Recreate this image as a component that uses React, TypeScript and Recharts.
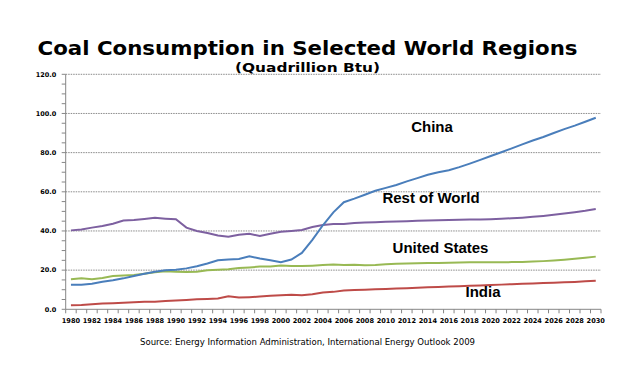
import React from 'react';
import { LineChart, Line, XAxis, YAxis, ReferenceLine } from 'recharts';

const years = [
  1980, 1981, 1982, 1983, 1984, 1985, 1986, 1987, 1988, 1989,
  1990, 1991, 1992, 1993, 1994, 1995, 1996, 1997, 1998, 1999,
  2000, 2001, 2002, 2003, 2004, 2005, 2006, 2007, 2008, 2009,
  2010, 2011, 2012, 2013, 2014, 2015, 2016, 2017, 2018, 2019,
  2020, 2021, 2022, 2023, 2024, 2025, 2026, 2027, 2028, 2029,
  2030,
];

const china = [
  12.5, 12.5, 13.0, 14.1, 14.8, 15.8, 17.0, 18.2, 19.2, 19.9,
  20.2, 20.9, 22.0, 23.4, 25.0, 25.4, 25.7, 27.1, 25.9, 25.0,
  24.0, 25.4, 28.8, 35.5, 42.9, 49.5, 54.7, 56.5, 58.5, 60.5,
  62.0, 63.5, 65.3, 67.0, 68.7, 70.0, 71.0, 72.6, 74.4, 76.3,
  78.3, 80.2, 82.2, 84.2, 86.2, 88.0, 90.0, 92.0, 93.8, 95.8,
  97.8,
];

const restOfWorld = [
  40.3, 40.8, 41.7, 42.5, 43.7, 45.3, 45.6, 46.1, 46.7, 46.3,
  46.0, 41.7, 40.0, 39.0, 37.7, 37.0, 38.1, 38.6, 37.4, 38.6,
  39.6, 40.0, 40.5, 42.0, 43.0, 43.5, 43.6, 44.1, 44.3, 44.5,
  44.7, 44.8, 45.0, 45.2, 45.4, 45.5, 45.6, 45.7, 45.8, 45.9,
  46.0, 46.2, 46.5, 46.8, 47.2, 47.7, 48.3, 48.9, 49.6, 50.3,
  51.2,
];

const unitedStates = [
  15.4, 15.8, 15.4, 16.0, 17.0, 17.3, 17.5, 18.2, 18.9, 19.4,
  19.2, 19.0, 19.2, 19.9, 20.2, 20.4, 21.1, 21.4, 21.8, 21.8,
  22.4, 22.1, 22.1, 22.3, 22.6, 22.9, 22.6, 22.8, 22.5, 22.6,
  23.0, 23.2, 23.4, 23.5, 23.6, 23.7, 23.8, 23.9, 24.0, 24.0,
  24.0, 24.0, 24.1, 24.2, 24.4, 24.6, 24.9, 25.3, 25.8, 26.3,
  26.9,
];

const india = [
  2.1, 2.2, 2.6, 2.9, 3.1, 3.4, 3.6, 3.8, 3.9, 4.3,
  4.5, 4.8, 5.1, 5.3, 5.5, 6.7, 6.0, 6.2, 6.5, 6.9,
  7.2, 7.4, 7.2, 7.7, 8.6, 8.9, 9.6, 9.8, 10.0, 10.2,
  10.4, 10.6, 10.8, 11.0, 11.2, 11.4, 11.6, 11.8, 12.0, 12.2,
  12.4, 12.6, 12.8, 13.0, 13.2, 13.4, 13.6, 13.8, 14.0, 14.3,
  14.6,
];

const xLabelYears = [
  1980, 1982, 1984, 1986, 1988, 1990, 1992, 1994, 1996, 1998,
  2000, 2002, 2004, 2006, 2008, 2010, 2012, 2014, 2016, 2018,
  2020, 2022, 2024, 2026, 2028, 2030,
];

const yTicks = [0, 5, 10, 15, 20, 25, 30, 35, 40, 45, 50, 55, 60, 65, 70, 75, 80, 85, 90, 95, 100, 105, 110, 115, 120];
const yLabelTicks = [0, 20, 40, 60, 80, 100, 120];
const gridValues = [20, 40, 60, 80, 100, 120];

const title = 'Coal Consumption in Selected World Regions';
const subtitle = '(Quadrillion Btu)';
const source = 'Source: Energy Information Administration, International Energy Outlook 2009';

const seriesLabels = [
  { text: 'China', x: 432, y: 127 },
  { text: 'Rest of World', x: 431, y: 197.5 },
  { text: 'United States', x: 440.5, y: 248 },
  { text: 'India', x: 483, y: 292 },
];

const data = years.map((yr, i) => ({
  year: yr,
  china: china[i],
  row: restOfWorld[i],
  us: unitedStates[i],
  india: india[i],
}));

const xBoundaries = [...years.map((y) => y - 0.5), years[years.length - 1] + 0.5];

const W = 640;
const H = 373;
const PLOT_L = 65.7;
const PLOT_R = 601;
const PLOT_T = 74.3;
const PLOT_B = 309.3;
const BAND = (PLOT_R - PLOT_L) / years.length;

const XTick = (props: any) => {
  const { x, payload } = props;
  const yr = payload.value + 0.5;
  if (!xLabelYears.includes(yr)) return null;
  return (
    <text
      x={x + BAND / 2}
      y={PLOT_B + 13.2}
      textAnchor="middle"
      fontFamily="DejaVu Sans"
      fontWeight="bold"
      fontSize={6.6}
      fill="#000"
    >
      {yr}
    </text>
  );
};

const YTick = (props: any) => {
  const { x, y, payload } = props;
  if (!yLabelTicks.includes(payload.value)) return null;
  return (
    <text
      x={x - 3.5}
      y={y}
      dy="0.35em"
      textAnchor="end"
      fontFamily="DejaVu Sans"
      fontWeight="bold"
      fontSize={6.5}
      fill="#000"
    >
      {payload.value.toFixed(1)}
    </text>
  );
};

export default function App() {
  return (
    <div style={{ position: 'absolute', left: 0, top: 0, width: W, height: H, background: '#fff' }}>
      <LineChart
        width={W}
        height={H}
        data={data}
        margin={{ top: PLOT_T, right: W - PLOT_R, bottom: H - PLOT_B - 30, left: PLOT_L - 60 }}
      >
        {gridValues.map((v) => (
          <ReferenceLine key={v} y={v} stroke="#8a8a8a" strokeDasharray="1.5 1" strokeWidth={1} />
        ))}
        <XAxis
          dataKey="year"
          type="number"
          domain={[xBoundaries[0], xBoundaries[xBoundaries.length - 1]]}
          ticks={xBoundaries}
          interval={0}
          height={30}
          axisLine={{ stroke: '#868686' }}
          tickLine={{ stroke: '#868686' }}
          tickSize={4}
          tick={<XTick />}
          allowDataOverflow
        />
        <YAxis
          type="number"
          domain={[0, 120]}
          ticks={yTicks}
          interval={0}
          width={60}
          axisLine={{ stroke: '#868686' }}
          tickLine={{ stroke: '#868686' }}
          tickSize={4}
          tick={<YTick />}
        />
        <Line type="linear" dataKey="row" stroke="#7D60A0" strokeWidth={2} dot={false} isAnimationActive={false} />
        <Line type="linear" dataKey="us" stroke="#98B954" strokeWidth={2} dot={false} isAnimationActive={false} />
        <Line type="linear" dataKey="india" stroke="#BE4B48" strokeWidth={2} dot={false} isAnimationActive={false} />
        <Line type="linear" dataKey="china" stroke="#4A7EBB" strokeWidth={2} dot={false} isAnimationActive={false} />
      </LineChart>
      <svg width={W} height={H} style={{ position: 'absolute', left: 0, top: 0, pointerEvents: 'none' }}>
        <text x={307.5} y={48} dy="0.36em" textAnchor="middle" fontFamily="DejaVu Sans" fontWeight="bold" fontSize={20} fill="#000" textLength={540} lengthAdjust="spacingAndGlyphs">
          {title}
        </text>
        <text x={307.5} y={68} dy="0.36em" textAnchor="middle" fontFamily="DejaVu Sans" fontWeight="bold" fontSize={12} fill="#000" textLength={145} lengthAdjust="spacingAndGlyphs">
          {subtitle}
        </text>
        {seriesLabels.map((l) => (
          <text key={l.text} x={l.x} y={l.y} dy="0.36em" textAnchor="middle" fontFamily="Liberation Sans" fontWeight="bold" fontSize={15} fill="#000">
            {l.text}
          </text>
        ))}
        <text x={307.5} y={342} dy="0.36em" textAnchor="middle" fontFamily="DejaVu Sans" fontSize={8} fill="#000" textLength={335} lengthAdjust="spacingAndGlyphs">
          {source}
        </text>
      </svg>
    </div>
  );
}
